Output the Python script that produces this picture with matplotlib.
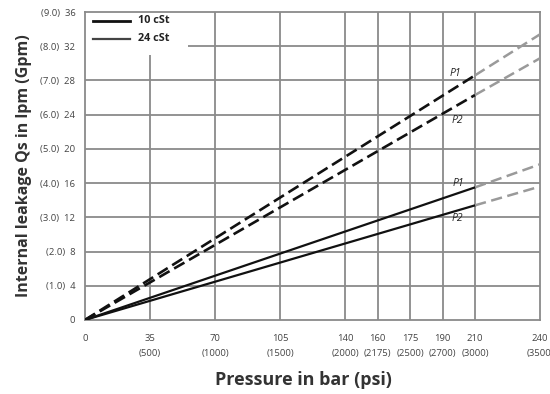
import numpy as np
import matplotlib.pyplot as plt
from matplotlib.patches import Rectangle

plt.rcParams['font.family'] = ['Open Sans', 'DejaVu Sans']

# x axis: bar values at the grid lines (grid is not linear in bar), psi below
bar_ticks = [0, 35, 70, 105, 140, 160, 175, 190, 210, 240]
psi_ticks = ['', '(500)', '(1000)', '(1500)', '(2000)', '(2175)', '(2500)', '(2700)', '(3000)', '(3500)']
bar_pos = [0, 1, 2, 3, 4, 4.5, 5, 5.5, 6, 7]

lpm_ticks = [0, 4, 8, 12, 16, 20, 24, 28, 32, 36]
gpm_ticks = ['', '(1.0)', '(2.0)', '(3.0)', '(4.0)', '(5.0)', '(6.0)', '(7.0)', '(8.0)', '(9.0)']

# leakage lines: measured part (black) up to 210 bar, extrapolated (gray dashed) to 240 bar
p_meas = [0, 210]
p_extra = [210, 240]
solid_p1 = [0, 15.5]
solid_p1_ext = [15.5, 18.2]
solid_p2 = [0, 13.4]
solid_p2_ext = [13.4, 15.6]
dash_p1 = [0, 28.6]
dash_p1_ext = [28.6, 33.4]
dash_p2 = [0, 26.3]
dash_p2_ext = [26.3, 30.6]


def xp(p):
    return np.interp(p, bar_ticks, bar_pos)


fig = plt.figure(figsize=(5.5, 3.94), dpi=100)
ax = fig.add_axes([0.1545, 0.188, 0.8275, 0.7815])

grid_c = '#8a8a8a'
ax.set_xlim(0, 7)
ax.set_ylim(0, 36)
for v in bar_pos[1:-1]:
    ax.axvline(v, color=grid_c, lw=1.3, zorder=0.5)
for v in lpm_ticks[1:-1]:
    ax.axhline(v, color=grid_c, lw=1.3, zorder=0.5)
for s in ax.spines.values():
    s.set_color(grid_c)
    s.set_linewidth(1.3)

# white legend area hides the grid
ax.add_patch(Rectangle((0, 0.86), 0.226, 0.14, transform=ax.transAxes,
                       facecolor='white', edgecolor='none', zorder=1))

ax.plot(xp(p_meas), solid_p1, color='#111111', lw=1.6, zorder=3)
ax.plot(xp(p_meas), solid_p2, color='#111111', lw=1.6, zorder=3)
ax.plot(xp(p_meas), dash_p1, color='#111111', lw=1.9, ls=(0, (4.5, 2)), zorder=3)
ax.plot(xp(p_meas), dash_p2, color='#111111', lw=1.9, ls=(0, (4.5, 2)), zorder=3)
for y in [solid_p1_ext, solid_p2_ext, dash_p1_ext, dash_p2_ext]:
    ax.plot(xp(p_extra), y, color='#9a9a9a', lw=1.8, ls=(0, (4.5, 2.2)), zorder=3)

lab = dict(fontsize=7.5, style='italic', color='#222222', zorder=4)
ax.text(5.69, 28.8, 'P1', ha='center', va='center', **lab)
ax.text(5.72, 23.3, 'P2', ha='center', va='center', **lab)
ax.text(5.74, 15.9, 'P1', ha='center', va='center', **lab)
ax.text(5.72, 11.9, 'P2', ha='center', va='center', **lab)

# legend
ax.plot([0.12, 0.69], [35.0, 35.0], color='#111111', lw=2.0, zorder=4, clip_on=False)
ax.plot([0.12, 0.69], [32.9, 32.9], color='#444444', lw=1.6, zorder=4, clip_on=False)
ax.text(0.82, 35.0, '10 cSt', fontsize=7.8, color='#222222', va='center', zorder=4, fontweight='bold')
ax.text(0.82, 32.9, '24 cSt', fontsize=7.8, color='#222222', va='center', zorder=4, fontweight='bold')

ax.set_xticks(bar_pos)
ax.set_xticklabels([f'{b}\n{p}' if p else f'{b}\n' for b, p in zip(bar_ticks, psi_ticks)],
                   fontsize=6.8, color='#444444', linespacing=1.9, va='top')
ax.set_yticks(lpm_ticks)
ax.set_yticklabels([f'{g}  {l}' if g else f'{l}' for l, g in zip(lpm_ticks, gpm_ticks)],
                   fontsize=6.8, color='#444444')
ax.tick_params(axis='x', length=0, pad=10)
ax.tick_params(axis='y', length=0, pad=7)

ax.set_xlabel('Pressure in bar (psi)', fontsize=13, fontweight='bold', color='#333333')
ax.xaxis.set_label_coords(0.48, -0.195)
ax.xaxis.label.set_va('center')
ax.set_ylabel('Internal leakage Qs in lpm (Gpm)', fontsize=11.5, fontweight='bold', color='#333333', labelpad=6)

fig.savefig('out.png', dpi=100)
